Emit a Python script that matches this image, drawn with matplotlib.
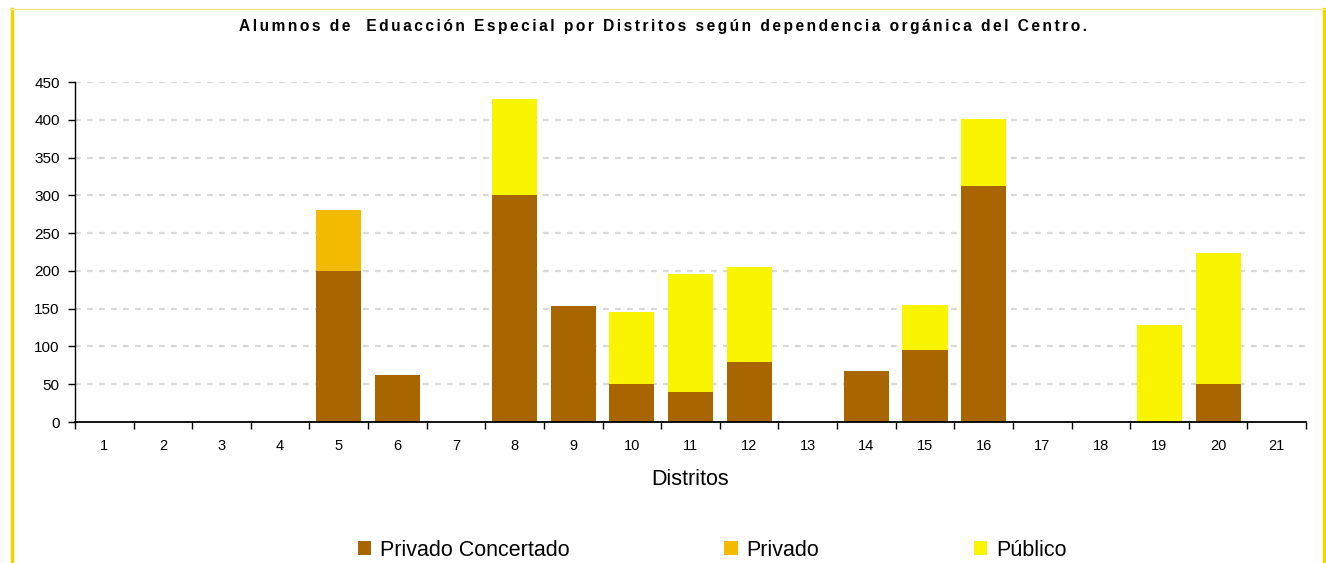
import matplotlib
matplotlib.use("Agg")
import matplotlib.pyplot as plt
from matplotlib.lines import Line2D
from matplotlib.patches import Patch
import numpy as np

plt.rcParams['font.family'] = ['Liberation Sans', 'DejaVu Sans']

# data
distritos = [str(i) for i in range(1, 22)]
privado_concertado = [0, 0, 0, 0, 200, 62, 0, 300, 154, 50, 40, 79, 0, 67, 95, 312, 0, 0, 0, 50, 0]
privado = [0, 0, 0, 0, 80, 0, 0, 0, 0, 0, 0, 0, 0, 0, 0, 0, 0, 0, 0, 0, 0]
publico = [0, 0, 0, 0, 0, 0, 0, 127, 0, 96, 156, 126, 0, 0, 60, 89, 0, 0, 128, 174, 0]
series_names = ["Privado Concertado", "Privado", "Público"]
colors = ["#A86500", "#F2BA00", "#F9F400"]
titulo = "Alumnos de  Eduacción Especial por Distritos según dependencia orgánica del Centro."

fig = plt.figure(figsize=(13.26, 5.63), dpi=100)
ax = fig.add_axes([75 / 1326, 1 - 422 / 563, (1306 - 75) / 1326, (422 - 82) / 563])

x = np.arange(len(distritos))
pc = np.array(privado_concertado)
pr = np.array(privado)
pu = np.array(publico)
w = 0.77
ax.bar(x, pc, w, color=colors[0], zorder=2)
ax.bar(x, pr, w, bottom=pc, color=colors[1], zorder=2)
ax.bar(x, pu, w, bottom=pc + pr, color=colors[2], zorder=2)

ax.set_xlim(-0.5, len(distritos) - 0.5)
ax.set_ylim(0, 450)
ax.set_yticks(range(0, 451, 50))
ax.set_xticks(x)
ax.set_xticklabels(distritos, fontsize=10.5)
ax.set_xticks(np.arange(-0.5, len(distritos)), minor=True)
ax.tick_params(axis='x', which='major', length=0, pad=12)
ax.tick_params(axis='x', which='minor', length=5, direction='out', width=1)
ax.tick_params(axis='y', length=5, width=1, labelsize=11, pad=6)

for v in range(50, 451, 50):
    ax.axhline(v, color="#D9D9D9", lw=1.6, linestyle=(0, (2.6, 2.8)), zorder=1)

for s in ['top', 'right']:
    ax.spines[s].set_visible(False)
ax.spines['left'].set_linewidth(1)
ax.spines['bottom'].set_linewidth(1.3)

ax.set_xlabel("Distritos", fontsize=15.5, labelpad=12)

# letter-spaced title, like the original
espaciado = "\u200a\u200a".join(titulo)
fig.text(0.5, 1 - 27 / 563, espaciado, ha='center', va='center', fontsize=11.2, fontweight='bold')

handles = [Patch(facecolor=c, edgecolor='none') for c in colors]
fig.legend(handles, series_names, loc='center', bbox_to_anchor=(712 / 1326, 13 / 563),
           ncol=3, frameon=False, fontsize=15.5, handlelength=0.62, handleheight=0.62,
           handletextpad=0.4, columnspacing=7.2, borderaxespad=0, borderpad=0)

# yellow frame around the chart area
fig.add_artist(Line2D([11.5 / 1326, 11.5 / 1326], [0, 1 - 9 / 563], transform=fig.transFigure,
                      color="#F5D300", lw=2.5))
fig.add_artist(Line2D([1323.5 / 1326, 1323.5 / 1326], [0, 1 - 9 / 563], transform=fig.transFigure,
                      color="#F5D300", lw=2.5))
fig.add_artist(Line2D([10 / 1326, 1325 / 1326], [1 - 9 / 563, 1 - 9 / 563], transform=fig.transFigure,
                      color="#F7E58A", lw=1))

fig.savefig("out.png", dpi=100)
